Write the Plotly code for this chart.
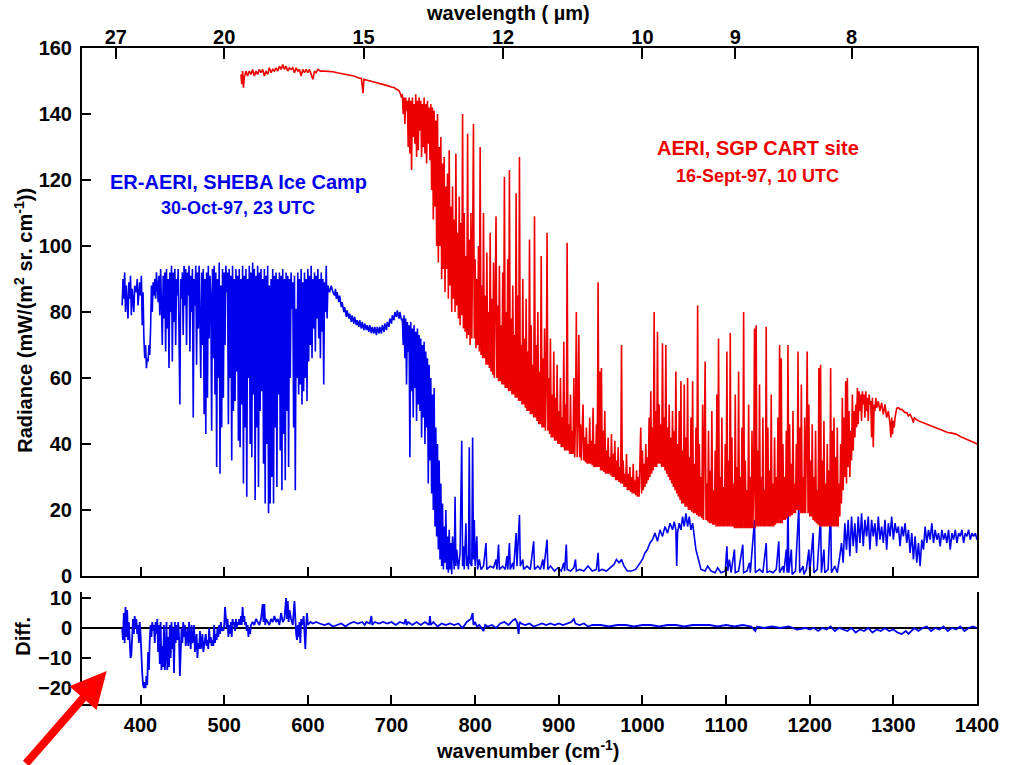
import plotly.graph_objects as go

# ---------------- DATA ----------------
# ER-AERI, SHEBA (blue) radiance, mW/(m2 sr cm-1)
BLUE_WN_1 = [378,379,380,381,382,383,385,386,387,388,
             389,390,392,393,395,396,397,399,400,401,
             402,403,404,405,406,407,408,409,410,411,
             412,413,414,415,416,417,418,419,420,421,
             422,423,424,426,427,428,429,430,431,432,
             433,434,435,436,437,438,439,440,441,442,
             443,444,445,447,448,449,450,451,452,453,
             454,455,456,457,458,459,460,461,462,463,
             464,465,466,467,468,469,470,472,473,474,
             475,476,477,478,479,480,481,482,483,484,
             485,486,487,488,489,490,491,492,493,494,
             495,496,497,498,499,500]
BLUE_RAD_1 = [82,90,84,92,80,88,78,89,84,91,
              79,87,80,88,86,90,82,89,85,91,
              76,86,72,66,70,63,66,65,70,67,
              75,88,80,89,85,90,84,92,88,83,
              91,79,93,70,91,78,92,68,93,75,
              90,63,92,80,94,65,92,77,93,70,
              90,85,93,52,90,84,92,73,94,82,
              93,70,92,85,94,68,91,80,93,48,
              90,82,94,64,92,75,94,60,92,70,
              93,49,90,43,92,54,94,72,91,85,
              44,93,66,94,55,92,33,90,60,95,
              31,88,45,93,54,92]

BLUE_WN_2 = [501,502,503,504,505,506,507,508,509,510,
             511,512,513,514,515,516,517,518,519,520,
             521,522,523,524,525,526,527,528,529,530,
             531,532,533,534,535,536,537,538,539,540,
             541,542,543,544,545,546,547,548,549,550,
             551,552,553,554,555,556,557,558,559,560,
             561,562,563,564,565,566,567,568,569,570,
             571,572,573,574,575,576,577,578,579,580,
             581,582,583,584,585,586,587,588,589,590,
             591,592,593,594,595,596,597,598,599,600,
             601,602,603,604,605,606,607,608,609,610,
             611,612,613,614,615,616,617,618,619,620,
             621,622,623,624,625,626,628,630]
BLUE_RAD_2 = [70,94,86,92,46,93,60,91,35,94,
              50,90,53,93,62,91,41,93,39,90,
              52,94,28,91,45,93,24,90,60,94,
              40,92,36,95,55,93,23,91,45,94,
              27,92,50,93,56,90,34,93,22,91,
              40,94,19,88,22,90,30,93,22,91,
              45,92,27,90,55,92,38,91,26,93,
              43,90,29,92,50,91,33,90,60,92,
              81,89,45,91,26,81,60,92,55,90,
              58,93,52,89,56,92,60,90,53,93,
              65,91,70,94,66,90,75,92,68,91,
              78,93,72,90,66,92,74,90,58,89,
              80,94,78,88,87,86,88,86]

BLUE_WN_3 = [632,633,634,635,637,638,640,641,643,644,
             646,647,649,650,652,653,655,656,658,659,
             661,662,664,665,667,668,670,671,673,674,
             676,677,679,680,682,683,685,686,688,689,
             691,692,694,695,697,698,700,701,703,704,
             706,707,709,710,712]
BLUE_RAD_3 = [85,87,84,86,83,85,81.5,83,80,81.5,
              78.5,80.5,78,79.5,77,79,76.5,78.5,76,77.5,
              75.5,77.5,75,77,74.5,76.5,74.5,76,74,76,
              73.5,75.5,73.5,75.5,73,75.5,73.5,75.5,73.5,76,
              74,76.5,74.5,77,75.5,78,76.5,79,77.5,80,
              78.5,80.5,78,80,77.5]

BLUE_WN_4 = [713,714,715,716,717,718,719,720,721,722,
             723,724,725,726,727,728,729,730,731,732,
             733,734,735,736,737,738,739,740,741,742,
             743,744,745,746,747,748,749,750,751,752,
             753,754,755,756,757,758,759,760,761,762,
             763,764,765,766,767,768,769,770,771,772,773,
             775,776,777,778,780,782,784,785,786,787,
             789,790,791,792,793,794,796,797,798,799,
             800,802,803,805,807]
BLUE_RAD_4 = [78,70,79,66,78,58,77,68,76,36,
              77,56,75,48,76,57,74,47,75,52,
              73,50,72,42,70,48,71,40,68,45,
              66,28,64,35,60,25,55,20,57,15,
              45,12,40,8,35,5,28,3,22,2,
              15,4,20,2,12,1,14,2,10,0.5,12,
              2,24,3,8,2,7,41,3,9,2,
              16,3,6,2,39,4,3,42,5,17,
              3,12,2,5,2]

BLUE_WN_5 = [810,813,814,818,822,825,826,828,829,833,
             836,838,839,841,842,845,846,849,850,853,
             854,857,858,862,866,870,871,875,878,881,
             882,886,887,890,895,899,903,906,907,909,
             910,914,918,920,921,925,930,935,940,945,
             947,948,952,957,962,966,969,972,975,978,
             982,987,992,996,1000,1003,1006,1009,1012,1015,
             1018,1021,1024,1027,1030,1033,1036,1038,1040,1041,
             1042,1044,1046,1048,1050,1052,1054,1056,1058,1060,
             1062,1064,1066,1068,1070,1075,1078,1082,1087,1090,
             1094,1099]
BLUE_RAD_5 = [3,10,2,3,2.5,5,2,9.5,2,3,
              2,6,2,10,2,4,2,13,3,18.5,
              3,5,2,3,2,10.5,2,3,2,5,
              2,11,2,3,1.5,2.5,1.5,4,1.5,9.5,
              2,1.5,2.5,5,1.5,2,1.5,3,1.5,2,
              7,1.5,2,1.5,2.5,3.5,5,4,5,3,
              1.5,1.5,2,3.5,5,7,8,10,11,13,
              10.5,14,12,15,13,16,14,16.5,14,3,
              13,16,14,18,15,19,15,18,14,16,
              12,8,6,3.5,2,1.5,3,1.5,1,2.5,
              1,1.5]

BLUE_WN_6 = [1101,1102,1104,1106,1110,1111,1115,1120,1121,1125,
             1128,1129,1134,1135,1140,1144,1148,1149,1152,1156,
             1160,1163,1164,1168,1169,1172,1173,1174,1175,1178,
             1179,1183,1187,1188,1192,1193,1196,1199,1200,1204,
             1205,1209,1213,1214,1217,1218,1222,1225,1226,1230,
             1233,1236]
BLUE_RAD_6 = [9,1.5,5,1,8,1,1.5,9.5,1,1.5,
              4,1,17,1,2,1,10,1,1.5,1,
              2,10.5,1,3,1,8,1,23,1,8,
              0.5,1.5,21,1,3,0.5,2,8,1,13,
              1,2,18,1,8,1,2,21,1,3,
              1,6]

BLUE_WN_7 = [1238,1240,1242,1244,1246,1248,1250,1252,1254,1256,
             1258,1260,1262,1264,1266,1268,1270,1272,1274,1276,
             1278,1280,1282,1284,1286,1288,1290,1292,1294,1296,
             1298,1300,1302,1304,1306,1308,1310,1312,1314,1316,
             1318,1320,1322,1324,1326,1328,1330,1332,1334,1336,
             1338,1340,1342,1344,1346,1348,1350,1352,1354,1356,
             1358,1360,1362,1364,1366,1368,1370,1372,1374,1376,
             1378,1380,1382,1384,1386,1388,1390,1392,1394,1396,
             1398,1400]
BLUE_RAD_7 = [10,4,16,8,17,6,18,9,16,7,
              18,10,19,9,17,12,18,8,17,12,
              16,9,18,11,15,10,17,8,16,12,
              18,11,16,13,15,9,15,12,16,10,
              14,7,13,5,12,4,10,3,11,8,
              15,10,14,11,16,10,14,11,13,9,
              14,11,13,10,14,8,13,11,14,10,
              13,12,14,10,13,12,14,11,13,12,
              13,11]

# AERI, SGP CART (red) radiance
RED_WN_1 = [520,521,522,523,524,526,528,530,532,534,
            536,538,540,542,544,546,548,550,552,554,
            556,558,560,562,564,566,568,570,572,574,
            576,578,580,582,584,586,588,590,592,594,
            596,598,600,602,604,606,608,610,612,615,
            620,625,630,635,640,645,650,655,660,664,
            666,667,670,675,680,685,690,695,700,703,
            706,709,711,712]
RED_RAD_1 = [152,149,153,148,151,153,151.5,153,152,153.5,
             151.5,153,152,153.5,152.5,153.5,151.5,153,152,154,
             152.5,153.5,153,154,153,154.5,153.5,155,153.5,154.5,
             153,154,153.5,154,152.5,154,153,153.5,151.5,153.5,
             152.5,153.5,152.5,153.5,152,150.5,153,152.5,153.5,153,
             153,153,152.8,152.5,152.3,152,151.8,151.5,151,150.8,
             146.3,150.5,150.3,150,149.5,149.2,149,148.6,148.2,148,
             147.5,147,146,145]

RED_WN_2 = [713,714,715,716,717,718,719,720,721,722,
            723,724,725,726,727,728,729,730,731,732,
            733,734,735,736,737,738,739,740,741,742,
            743,744,745,746,747,748,749,750,751,752,
            753,754,755,756,757,758,759,760,761,762,
            763,764,765,766,767,768,769,770,771,772,
            773,774,775,776,777,778,779,780,781,782,
            783,784,785,786,787,788,789,790,791,792,
            793,794,795,796,797,798,799,800,801,802,
            803,804,805,806,807,808,809,810,811,812,
            813,814,815,816,817,818,819,820,821,822,
            823,824,825,826,827,828,829,830,831,832,
            833,834,835,836,837,838,839,840,841,842,
            843,844,845,846,847,848,849,850,851,852,
            853,854,855,856,857,858,859,860,861,862,
            863,864,865,866,867,868,869,870,871,872,
            873,874,875,876,877,878,879,880,881,882,
            883,884,885,886,887,888,889,890,891,892,
            893,894,895,896,897,898,899,900,901,902,
            903,904,905,906,907,908,909,910,911,912,
            913,914,915,916,917,918,919,920]
RED_RAD_2 = [146,140,145,137,145,141,144,130,145,128,
             144,123,145,133,143,131,146,127,144,129,
             145,135,144,127,143,130,145,128,143,125,
             144,131,142,126,143,117,142,108,141,112,
             138,100,140,95,130,100,133,90,125,93,
             127,86,118,93,122,84,129,88,112,80,
             118,84,108,80,128,82,104,78,115,76,
             107,79,140,75,110,74,97,72,134,73,
             102,70,110,72,100,137,72,96,69,90,
             70,100,68,130,67,88,66,110,66,85,
             64,98,64,80,63,104,62,84,61,95,
             60,78,109,60,82,59,94,59,76,58,
             92,58,121,57,80,57,96,56,123,56,
             78,55,88,55,73,54,116,54,85,53,
             127,53,70,52,90,52,72,51,84,50,
             68,50,102,49,76,49,64,48,109,48,
             70,47,80,46,62,46,97,45,66,45,
             75,44,58,104,44,60,43,72,42,55,
             42,68,41,54,41,64,40,50,40,60,
             39,48,39,71,38,52,38,101,38,46,
             37,55,37,44,37,60,36,48]

RED_WN_3 = [921,922,923,924,925,926,927,928,929,930,
            931,932,933,934,935,936,937,938,939,940,
            941,942,943,944,945,946,947,948,949,950,
            951,952,953,954,955,956,957,958,959,960,
            961,962,963,964,965,966,967,968,969,970,
            971,972,973,974,975,976,977,978,979,980,
            981,982,983,984,985,986,987,988,989,990,
            991,992,993,994,995,996,997,998,999,1000,
            1001,1002,1003,1004,1005,1006,1007,1008,1009,1010,
            1011,1012,1013,1014,1015,1016,1017,1018,1019,1020,
            1021,1022,1023,1024,1025,1026,1027,1028,1029,1030,
            1031,1032,1033,1034,1035,1036,1037,1038,1039,1040,
            1041,1042,1043,1044,1045,1046,1047,1048,1049,1050,
            1051,1052,1053,1054,1055,1056,1057,1058,1059,1060,
            1061,1062,1063,1064,1065,1066,1067,1068,1069,1070,
            1071,1072,1073,1074,1075,1076,1077,1078,1079,1080,
            1081,1082,1083,1084,1085,1086,1087,1088,1089,1090,
            1091,1092,1093,1094,1095,1096,1097,1098,1099,1100,
            1101,1102,1103,1104,1105,1106,1107,1108,1109,1110,
            1111,1112,1113,1114,1115,1116,1117,1118,1119,1120,
            1121,1122,1123,1124,1125,1126,1127,1128,1129,1130,
            1131,1132,1133,1134,1135,1136,1137,1138,1139,1140,
            1141,1142,1143,1144,1145,1146,1147,1148,1149,1150,
            1151,1152,1153,1154,1155,1156,1157,1158,1159,1160,
            1161,1162,1163,1164,1165,1166,1167,1168,1169,1170,
            1171,1172,1173,1174,1175,1176,1177,1178,1179,1180,
            1181,1182,1183,1184,1185,1186,1187,1188,1189,1190,
            1191,1192,1193,1194,1195,1196,1197,1198,1199,1200,
            1201,1202,1203,1204,1205,1206,1207,1208,1209,1210,
            1211,1212,1213,1214,1215,1216,1217,1218,1219,1220,
            1221,1222,1223,1224,1225,1226,1227,1228,1229,1230,
            1231,1232,1233,1234,1235,1236]
RED_RAD_3 = [80,36,48,73,36,46,35,44,52,35,
             42,34.5,45,34,40,34,48,34,41,33.5,
             51,33,40,33,46,33,89,33,62,32,
             63,32,44,31.5,50,31,38,31,42,31,
             36,30.5,43,30,37,30,41,29,35,29,
             39,28.5,33,28,70,28,35,27,31,27,
             37,26,31,26,33,25.5,30,25,34,25,
             29,24.5,32,24,30,24,33,45,25,38,
             26,34,27,40,28,36,29,48,30,56,
             31,45,32,80,33,50,33,74,34,52,
             34,46,33,70.5,33,48,32,70,31,45,
             30,52,29,42,28,50,27,44,26,62,
             25,40,24,50,23,59,22,38,22,58,
             21,42,21,60,20,36,20,48,19.5,59,
             19,34,19,45,18.5,82,18,40,18,30,
             17.5,52,17,35,65,17,28,16.5,44,16,
             32,16,50,15.5,26,15.5,38,15,55,15,
             72,15,30,15,48,15,27,15,40,15,
             68,15,35,15,73.6,15,42,15,28,14.5,
             55,14.5,33,14.5,62,14.5,30,14.5,45,14.5,
             80,14.5,35,14.5,26,14.5,52,14.5,30,14.5,
             44,14.5,27,75,14.5,76,15,38,15,58,
             15,30,15,48,15,26,15,75.5,15,45,
             15,32,15,55,15,28,15,42,15.5,30,
             16,48,16,70,16,66,16,40,17,30,
             17,44,17.5,70,18,46,18,34,18.5,50,
             19,28,19,40,20,68,20,45,19,58,
             19,30,19,48,19,40,68,19,52,18,
             35,18,46,17,30,16.5,44,16,26,15.5,
             63,15,64,15,35,15,47,15,28,15,
             40,15,32,15,63,15,44,15,48,15,
             36,15,45,15,28,18]

RED_WN_4 = [1237,1238,1239,1240,1241,1242,1243,1244,1245,1246,
            1247,1248,1249,1250,1251,1252,1253,1254,1255,1256,
            1257,1258,1259,1260,1261,1262,1263,1264,1265,1266,
            1267,1268,1269,1270,1271,1272,1273,1274,1275,1276,
            1277,1278,1279,1280,1282,1284,1286,1288,1290,1292,
            1294,1296,1297,1298,1299,1300,1301,1302,1304,1306,
            1308,1310,1312,1314,1316,1318,1320,1322,1324,1325,
            1327,1330,1335,1340,1345,1350,1355,1360,1365,1370,
            1375,1380,1385,1390,1395,1400]
RED_RAD_4 = [40,22,54,26,48,30,59,28,60,33,
             50,30,44,35,55,38,50,42,52,45,
             57,46,56,50,55,47,56,52,55,48,
             56,50,54,47,55,52,53,42,54,39,
             52,50,54,51,53,50,52.5,49,52,48,
             50,46,42,48,43,47,45,48,50.8,51,
             50.5,50.5,50,49.5,49.5,48.5,49,48,46.5,48,
             47.5,47,46.5,46,45.5,45,44.5,44,43.5,43.3,
             43,42.3,41.8,41.2,40.6,40]

# Difference (lower panel)
DIFF_WN_1 = [378,379,380,381,382,383,384,385,386,387,
             388,389,390,391,392,393,394,395,396,397,
             398,399,400,401,402,403,404,405,406,407,
             408,409,410,411,412,413,414,415,416,417,
             418,419,420,421,422,423,424,425,426,427,
             428,429,430,431,432,433,434,435,436,437,
             438,439,440,441,442,443,444,445,446,447,
             448,449,450,451,452,453,454,455,456,457,
             458,459,460,461,462,463,464,465,466,467,
             468,469,470,471,472,473,474,475,476,477,
             478,479,480,481,482,483,484,485,486,487,
             488,489,490,491,492,493,494,495,496,497,
             498,499,500,501,502,503,504,505,506,507,
             508,509,510,511,512,513,514,515,516,517,
             518,519,520,521,522,523,524,525,526,527,
             528,529,530,531,532]
DIFF_VAL_1 = [0,-4,5,-5,7,-3,6,-4,2,-6,
              -10,-9,-3,3,-2,4,0,3,-2,1,
              -5,2,-2,-12,-15,-19,-20,-18,-20,-16,
              -19,-8,-14,-4,1,-3,2,-1,1,-5,
              2,-2,3,-8,1,-12,2,-14,-6,-13,
              1,-14,-9,2,-14,-3,-13,1,-10,2,
              -7,0,-15,2,-5,1,-4,2,-3,-16,
              -2,0,-5,2,-3,1,-6,-1,0,-6,
              2,-3,-7,1,-5,-4,1,-8,-5,-2,
              -10,-5,-7,-1,-7,-4,-2,-8,-6,-5,
              -2,-6,-4,-7,0,-5,-3,-6,-4,-6,
              1,-5,-2,-4,0,-3,1,-2,2,-1,
              0,-1,1,7,2,0,3,-3,1,-2,
              2,-3,3,1,2,-1,3,0,2,1,
              3,1,4,1,7,2,4,1,2,-1,
              1,-3,0,-2,1]

DIFF_WN_2 = [534,536,538,540,542,544,546,547,548,549,
             550,552,554,556,558,560,562,564,566,568,
             570,572,574,575,576,577,578,580,582,584,
             585,586,587,588,589,590,591,592,593,594,
             595,596,597,598,599,600]
DIFF_VAL_2 = [2,1,3,2,1,3,8,2,8,1,
              3,2,1,3,2,4,2,3,1,5,
              2,3,10,3,9,2,6,3,1,9,
              2,-2,-4,1,-3,2,-5,3,1,2,
              4,-1,-7,1,5,1]

DIFF_WN_3 = [603,606,610,614,620,625,630,635,640,645,
             650,655,660,665,668,670,674,676,677,680,
             685,690,695,700,705,710,715,717,718,720,
             725,730,735,740,745,746,747,750,755,760,
             765,770,775,780,785,790,795,797,798,800,
             802,805,810,812,815,820,825,830,835,840,
             845,848,850,852,853,855,860,865,870,875,
             880,885,890,895,900,905,910,915,918,920,
             925,930,935,940,950,960,970,980,990,1000,
             1010,1020,1030,1040,1050,1060,1070,1080,1090,1100,
             1110,1120,1130,1135,1137,1145,1155,1165,1175,1185,
             1195,1200,1205,1210,1215,1220,1225,1230,1235,1240,
             1245,1250,1255,1260,1265,1270,1275,1280,1285,1290,
             1295,1300,1305,1310,1315,1318,1320,1325,1330,1335,
             1340,1345,1350,1355,1360,1365,1370,1375,1380,1385,
             1390,1395,1400]
DIFF_VAL_3 = [2,1.5,2,1.5,1,1.5,0.5,1,1.5,0.5,
              1.5,2,1.5,2,1,2,1.5,4,1,2,
              1.5,2,1.5,2,1,2,1.5,3,1,2,
              1,2,1,2,1,4,1,2,0.5,1.5,
              1,1.5,1,1.5,0,2,3,5,1,2,
              0.5,1,-1,1,0.5,1,0,1.5,2,1,
              2.5,3,2,-2,2,1.5,1,1.5,0.5,1,
              1.5,1,1.5,1,1.5,1,1.5,2,3,1.5,
              1,1.5,0.5,1,1,0.5,1,1,0.5,1,
              1,0.5,1,1,0.5,1,1,1,0.5,1,
              0.5,1,0.5,-1,0.5,0,0.5,0,0.5,-0.5,
              0,-0.5,0,-1,0,-0.5,0.5,-1,0,-0.5,
              -1,0,-1.5,-0.5,-1,0,-1.5,-0.5,-1,0,
              -1,-0.5,-1.5,-2,-1,-2,-1.5,0,-1,0,
              0.5,-1,0,-0.5,0.5,-1,0,-0.5,0.5,-1,
              0,0.5,0]

# Axis ticks
WAVENUMBER_TICKS = [400, 500, 600, 700, 800, 900, 1000, 1100, 1200, 1300, 1400]
WAVELENGTH_TICKS = [27, 20, 15, 12, 10, 9, 8]     # micrometres
RADIANCE_TICKS = [0, 20, 40, 60, 80, 100, 120, 140, 160]
DIFF_TICKS = [-20, -10, 0, 10]

# ---------------- FIGURE ----------------
BLUE = "#0000EE"
RED = "#EE0000"
FONT = "Liberation Sans, Arial, sans-serif"

blue_x = BLUE_WN_1 + BLUE_WN_2 + BLUE_WN_3 + BLUE_WN_4 + BLUE_WN_5 + BLUE_WN_6 + BLUE_WN_7
blue_y = BLUE_RAD_1 + BLUE_RAD_2 + BLUE_RAD_3 + BLUE_RAD_4 + BLUE_RAD_5 + BLUE_RAD_6 + BLUE_RAD_7
red_x = RED_WN_1 + RED_WN_2 + RED_WN_3 + RED_WN_4
red_y = RED_RAD_1 + RED_RAD_2 + RED_RAD_3 + RED_RAD_4
diff_x = DIFF_WN_1 + DIFF_WN_2 + DIFF_WN_3
diff_y = DIFF_VAL_1 + DIFF_VAL_2 + DIFF_VAL_3

fig = go.Figure()
fig.add_trace(go.Scatter(x=red_x, y=red_y, mode="lines", xaxis="x3", yaxis="y",
                         line=dict(color=RED, width=1.6), hoverinfo="skip"))
fig.add_trace(go.Scatter(x=blue_x, y=blue_y, mode="lines", xaxis="x", yaxis="y",
                         line=dict(color=BLUE, width=1.6), hoverinfo="skip"))
fig.add_trace(go.Scatter(x=diff_x, y=diff_y, mode="lines", xaxis="x2", yaxis="y2",
                         line=dict(color=BLUE, width=1.8), hoverinfo="skip"))

XR = [330, 1400]
tickfont = dict(family=FONT, size=20, color="black", weight="bold")
common = dict(showgrid=False, zeroline=False, showline=True, linecolor="black",
              linewidth=2, ticks="inside", tickcolor="black", tickwidth=2)

W, H = 1011, 765
L, R, T, B = 82, 23, 48, 61
ph = H - T - B          # plot-area height in px
pw = W - L - R


def py(px_y):           # page pixel row -> paper y
    return (H - B - px_y) / ph


def px(px_x):           # page pixel column -> paper x
    return (px_x - L) / pw


main_bottom = py(576)
diff_top = py(592)

fig.update_layout(
    width=W, height=H,
    margin=dict(l=L, r=R, t=T, b=B),
    paper_bgcolor="white", plot_bgcolor="white",
    showlegend=False,
    font=dict(family=FONT, color="black"),
    xaxis=dict(domain=[0, 1], anchor="y", range=XR, tickvals=WAVENUMBER_TICKS[:-1],
               showticklabels=False, ticklen=9, **common),
    xaxis3=dict(overlaying="x", side="top", anchor="y", range=XR,
                tickvals=[1e4 / w for w in WAVELENGTH_TICKS],
                ticktext=[str(w) for w in WAVELENGTH_TICKS],
                tickfont=tickfont, ticklen=11, ticklabelstandoff=-6, **common),
    yaxis=dict(domain=[main_bottom, 1], anchor="x", range=[0, 160],
               tickvals=RADIANCE_TICKS, tickfont=tickfont, ticklen=9, mirror=True,
               ticklabelstandoff=4, **common),
    xaxis2=dict(domain=[0, 1], anchor="y2", range=XR, tickvals=WAVENUMBER_TICKS,
                tickfont=tickfont, ticklen=9, ticklabelstandoff=2, **common),
    yaxis2=dict(domain=[0, diff_top], anchor="x2", range=[-25.33, 12],
                tickvals=DIFF_TICKS, tickfont=tickfont, ticklen=9, mirror=True,
                ticklabelstandoff=4,
                **{k: v for k, v in common.items() if k != "zeroline"},
                zeroline=True, zerolinecolor="black", zerolinewidth=1.5),
)

ann = [
    dict(text="<b>ER-AERI, SHEBA Ice Camp</b>", x=px(240), y=py(182),
         font=dict(size=20, color=BLUE)),
    dict(text="<b>30-Oct-97, 23 UTC</b>", x=px(240), y=py(208),
         font=dict(size=18, color=BLUE)),
    dict(text="<b>AERI, SGP CART site</b>", x=px(766), y=py(148),
         font=dict(size=20, color=RED)),
    dict(text="<b>16-Sept-97, 10 UTC</b>", x=px(766), y=py(176),
         font=dict(size=18, color=RED)),
    dict(text="<b>wavelength ( µm)</b>", x=px(513), y=py(13),
         font=dict(size=20, color="black")),
    dict(text="<b>wavenumber (cm<sup>-1</sup>)</b>", x=px(533), y=py(749),
         font=dict(size=20, color="black")),
    dict(text="<b>Radiance (mW/(m<sup>2</sup> sr. cm<sup>-1</sup>))</b>", x=px(22), y=py(320),
         textangle=-90, font=dict(size=20, color="black")),
    dict(text="<b>Diff.</b>", x=px(22), y=py(636),
         textangle=-90, font=dict(size=20, color="black")),
]
for a in ann:
    a.update(xref="paper", yref="paper", showarrow=False,
             xanchor="center", yanchor="middle")
    a["font"]["family"] = FONT
    fig.add_annotation(**a)

# red arrow pointing at the lower-left corner of the difference panel
fig.add_annotation(x=px(107), y=py(671), xref="paper", yref="paper", text="",
                   showarrow=True, arrowhead=2, arrowsize=0.9, arrowwidth=8,
                   arrowcolor="#FF0000", ax=-82, ay=94, standoff=0)

fig.write_html("out.html")
